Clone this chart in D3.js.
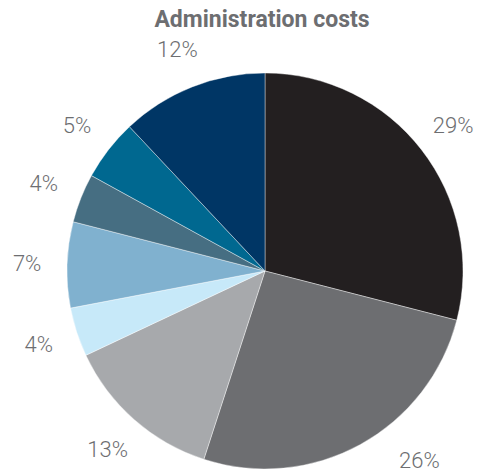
<!DOCTYPE html>
<html>
    <head>
        <script src="https://d3js.org/d3.v7.min.js"></script>
        <style>
            body { margin:0; background:white; }
            svg { width:490px; height:472px; display:block; }
            .title { font-family:"Liberation Sans Narrow","Roboto",sans-serif; font-weight:bold; font-size:23px; fill:#6d6e71; }
            .label { font-family:"Roboto","Liberation Sans",sans-serif; font-weight:300; font-size:22px; fill:#6d6e71; }
        </style>
    </head>
    <body>
        <svg></svg>
    </body>
    <script>
        // slice values, clockwise from 12 o'clock
        const shares = [29, 26, 13, 4, 7, 4, 5, 12];
        const labels = ['29%', '26%', '13%', '4%', '7%', '4%', '5%', '12%'];
        const colors = ['#231f20', '#6d6e71', '#a7a9ac', '#c7e9f9', '#80b1cf', '#466e82', '#006890', '#003665'];

        const svg = d3.select('svg');
        const cx = 265, cy = 271, radius = 198, labelRadius = 238;
        const bottomLimit = 460;

        svg.append('text')
            .attr('class', 'title')
            .attr('x', 262)
            .attr('y', 27)
            .attr('text-anchor', 'middle')
            .text('Administration costs');

        const pie = d3.pie().sort(null).value(d => d);
        const arcs = pie(shares);
        const arc = d3.arc().innerRadius(0).outerRadius(radius);

        const g = svg.append('g').attr('transform', `translate(${cx},${cy})`);
        g.selectAll('path')
            .data(arcs)
            .enter()
            .append('path')
            .attr('d', arc)
            .style('fill', (d, i) => colors[i])
            .style('stroke', 'white')
            .style('stroke-width', 0.4);

        // labels sit outside the pie along the mid angle; pushed up if they'd run off the bottom
        g.selectAll('text.label')
            .data(arcs)
            .enter()
            .append('text')
            .attr('class', 'label')
            .attr('text-anchor', 'middle')
            .attr('dominant-baseline', 'central')
            .each(function(d, i) {
                let a = (d.startAngle + d.endAngle) / 2;
                let r = labelRadius;
                let x = r * Math.sin(a), y = -r * Math.cos(a);
                if (cy + y > bottomLimit) {
                    r = labelRadius + 6;
                    y = bottomLimit - cy;
                    x = Math.sqrt(r * r - y * y) * Math.sign(Math.sin(a));
                }
                d3.select(this).attr('x', x).attr('y', y).text(labels[i]);
            });
    </script>
</html>
